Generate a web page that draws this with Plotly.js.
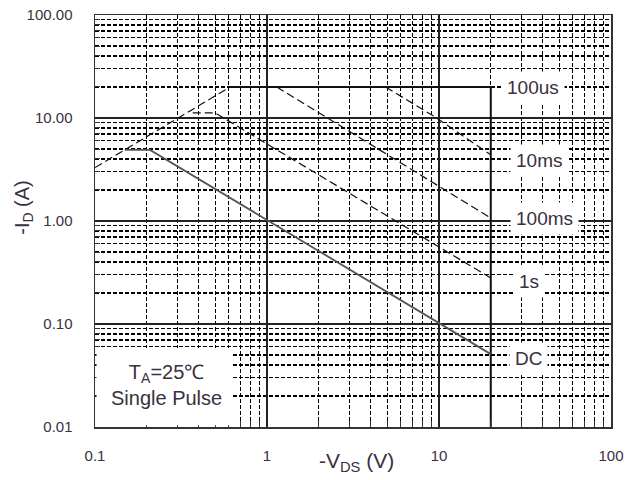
<!DOCTYPE html>
<html>
<head>
<meta charset="utf-8">
<script src="https://cdn.plot.ly/plotly-3.0.1.min.js"></script>
<style>html,body{margin:0;padding:0;background:#fff;}#chart{width:638px;height:480px;}</style>
</head>
<body>
<div id="chart"></div>
<script>
// ---- data (V in volts, I in amps) ----
var rdsV   = [0.1, 0.61];
var rdsI   = [3.3, 20];
var us100V = [0.61, 20, 20];
var us100I = [20, 20, 0.01];
var ms10V  = [4.9, 9.7, 20];
var ms10I  = [20, 10.0, 4.4];
var ms100V = [1.14, 20];
var ms100I = [20, 1.07];
var s1V    = [0.37, 0.5, 20];
var s1I    = [11.2, 11.2, 0.28];
var dcV    = [0.149, 0.209, 20];
var dcI    = [4.9, 4.9, 0.051];

var curveLabels = ["100us", "10ms", "100ms", "1s", "DC"];

// ---- tick labels ----
var xTickVals = [0.1, 1, 10, 100];
var xTickText = ["0.1", "1", "10", "100"];
var yTickVals = [0.01, 0.1, 1, 10, 100];
var yTickText = ["0.01", "0.10", "1.00", "10.00", "100.00"];
var xMinorVals = [0.2,0.3,0.4,0.5,0.6,0.7,0.8,0.9, 2,3,4,5,6,7,8,9, 20,30,40,50,60,70,80,90];
var yMinorVals = [0.02,0.03,0.04,0.05,0.06,0.07,0.08,0.09, 0.2,0.3,0.4,0.5,0.6,0.7,0.8,0.9,
                  2,3,4,5,6,7,8,9, 20,30,40,50,60,70,80,90];

var FONT = '"Liberation Sans", Arial, sans-serif';
var TXT = '#3a3040';
var DASH = '8px,4px';

var traces = [
  {x: rdsV, y: rdsI, mode: 'lines', line: {color: '#111', width: 1.2, dash: DASH}},
  {x: us100V, y: us100I, mode: 'lines', line: {color: '#111', width: 2}},
  {x: ms10V, y: ms10I, mode: 'lines', line: {color: '#111', width: 1.2, dash: DASH}},
  {x: ms100V, y: ms100I, mode: 'lines', line: {color: '#111', width: 1.2, dash: DASH}},
  {x: s1V, y: s1I, mode: 'lines', line: {color: '#111', width: 1.2, dash: DASH}},
  {x: dcV, y: dcI, mode: 'lines', line: {color: '#555', width: 1.8}}
];

var labelX = [0.787, 0.804, 0.804, 0.810, 0.802];
var labelY = [0.825, 0.648, 0.505, 0.352, 0.167];

var annotations = curveLabels.map(function (t, i) {
  return {
    text: t, xref: 'paper', yref: 'paper', x: labelX[i], y: labelY[i],
    xanchor: 'left', yanchor: 'middle', showarrow: false,
    bgcolor: '#fff', borderpad: 5,
    font: {family: FONT, size: 19, color: TXT}
  };
});

annotations.push({
  text: 'T<sub>A</sub>=25℃<br>Single Pulse', xref: 'paper', yref: 'paper',
  x: 0.138, y: 0.103, xanchor: 'center', yanchor: 'middle', showarrow: false,
  font: {family: FONT, size: 20, color: TXT}
});
annotations.push({
  text: '-I<sub>D</sub> (A)', xref: 'paper', yref: 'paper',
  x: -0.138, y: 0.534, xanchor: 'center', yanchor: 'middle', textangle: -90, showarrow: false,
  font: {family: FONT, size: 20, color: TXT}
});
annotations.push({
  text: '-V<sub>DS</sub> (V)', xref: 'paper', yref: 'paper',
  x: 0.506, y: -0.085, xanchor: 'center', yanchor: 'middle', showarrow: false,
  font: {family: FONT, size: 21, color: TXT}
});

var axisCommon = {
  type: 'log',
  showline: true, mirror: true, linecolor: '#333', linewidth: 1.5,
  showgrid: true, gridcolor: '#222', gridwidth: 1.3,
  zeroline: false,
  ticks: '',
  tickmode: 'array',
  tickfont: {family: FONT, size: 15, color: TXT}
};

var layout = {
  width: 638, height: 480,
  margin: {l: 95, r: 27, t: 15, b: 53},
  paper_bgcolor: '#fff', plot_bgcolor: '#fff',
  showlegend: false,
  xaxis: Object.assign({}, axisCommon, {
    range: [-1, 2],
    tickvals: xTickVals, ticktext: xTickText,
    ticklabelstandoff: 14,
    minor: {tickmode: 'array', tickvals: xMinorVals, showgrid: true,
            gridcolor: '#000', gridwidth: 1.1, griddash: '4px,2px',
            ticks: 'inside', ticklen: 6, tickcolor: '#333'}
  }),
  yaxis: Object.assign({}, axisCommon, {
    range: [-2, 2],
    tickvals: yTickVals, ticktext: yTickText,
    ticklabelstandoff: 18,
    minor: {tickmode: 'array', tickvals: yMinorVals, showgrid: true,
            gridcolor: '#000', gridwidth: 1.1, griddash: '4px,2px',
            ticks: 'inside', ticklen: 5, tickcolor: '#333'}
  }),
  shapes: [{
    type: 'rect', xref: 'paper', yref: 'paper',
    x0: 0.003, x1: 0.267, y0: 0.004, y1: 0.192,
    fillcolor: '#fff', line: {width: 0}, layer: 'above'
  }],
  annotations: annotations
};

Plotly.newPlot('chart', traces, layout, {staticPlot: true, displayModeBar: false});
</script>
</body>
</html>
